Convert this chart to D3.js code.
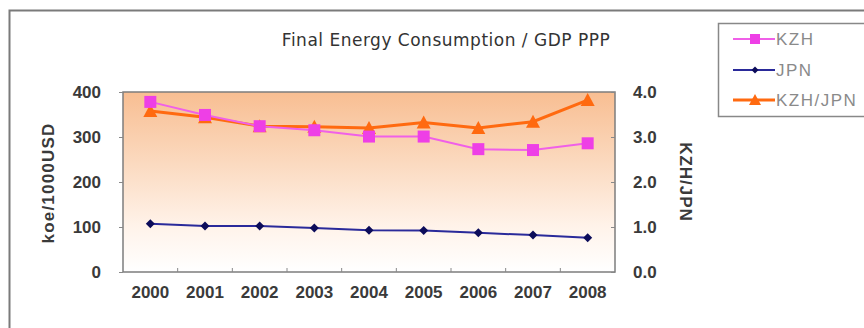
<!DOCTYPE html>
<html>
<head>
<meta charset="utf-8">
<script src="https://cdn.jsdelivr.net/npm/d3@7/dist/d3.min.js"></script>
<style>
  html, body { margin: 0; padding: 0; background: #fff; }
  svg { display: block; font-family: "Liberation Sans", Arial, sans-serif; }
</style>
</head>
<body>
<svg id="chart" width="864" height="328"></svg>
<script>
// Final energy consumption per GDP (PPP), Kazakhstan vs Japan
const years = ["2000", "2001", "2002", "2003", "2004", "2005", "2006", "2007", "2008"];
const kzh = [378, 349, 324, 315, 301, 301, 273, 271, 286];       // koe / 1000 USD
const jpn = [107, 102, 102, 98, 93, 92, 87, 82, 76];              // koe / 1000 USD
const ratio = [3.58, 3.44, 3.24, 3.23, 3.20, 3.32, 3.20, 3.34, 3.82]; // KZH / JPN
const leftTicks = [0, 100, 200, 300, 400];
const rightTicks = [0, 1, 2, 3, 4];

const svg = d3.select("#chart");
const plot = { left: 123, right: 615, top: 92, bottom: 272 };

const x = d3.scaleBand().domain(years).range([plot.left, plot.right]);
const yL = d3.scaleLinear().domain([0, 400]).range([plot.bottom, plot.top]);
const yR = d3.scaleLinear().domain([0, 4]).range([plot.bottom, plot.top]);
const cx = d => x(d) + x.bandwidth() / 2;

// outer chart frame (only left and top edges fall inside the view)
svg.append("path").attr("d", "M9.5,328 V10.5 H864")
  .attr("fill", "none").attr("stroke", "#7a7a7a").attr("stroke-width", 2);

// plot area gradient
const defs = svg.append("defs");
const grad = defs.append("linearGradient").attr("id", "bg").attr("x1", 0).attr("y1", 0).attr("x2", 0).attr("y2", 1);
grad.append("stop").attr("offset", "0%").attr("stop-color", "#f8be92");
grad.append("stop").attr("offset", "40%").attr("stop-color", "#fbdac0");
grad.append("stop").attr("offset", "75%").attr("stop-color", "#fff3ea");
grad.append("stop").attr("offset", "100%").attr("stop-color", "#ffffff");

svg.append("rect")
  .attr("x", plot.left).attr("y", plot.top)
  .attr("width", plot.right - plot.left).attr("height", plot.bottom - plot.top)
  .attr("fill", "url(#bg)")
  .attr("stroke", "#7d7d7d").attr("stroke-width", 1.5);

// title
svg.append("text").attr("x", 446).attr("y", 46).attr("text-anchor", "middle")
  .attr("font-family", "'DejaVu Sans', sans-serif")
  .attr("font-size", 17).attr("letter-spacing", 0.5).attr("fill", "#333")
  .text("Final Energy Consumption / GDP PPP");

const tickFont = g => g.selectAll("text")
  .attr("font-size", 17).attr("font-weight", "bold").attr("fill", "#3a3a3a")
  .attr("font-family", "'Liberation Sans', Arial, sans-serif");

// left axis
const axL = svg.append("g").attr("transform", `translate(${plot.left},0)`)
  .call(d3.axisLeft(yL).tickValues(leftTicks).tickSize(4).tickPadding(18).tickFormat(d3.format("d")));
axL.select(".domain").remove();
axL.selectAll("line").attr("stroke", "#888");
tickFont(axL);

// right axis
const axR = svg.append("g").attr("transform", `translate(${plot.right},0)`)
  .call(d3.axisRight(yR).tickValues(rightTicks).tickSize(-4).tickPadding(18).tickFormat(d3.format(".1f")));
axR.select(".domain").remove();
axR.selectAll("line").attr("stroke", "#888");
tickFont(axR);

// bottom axis: labels at band centres, ticks at band edges
const axB = svg.append("g").attr("transform", `translate(0,${plot.bottom})`)
  .call(d3.axisBottom(x).tickSize(0).tickPadding(14));
axB.select(".domain").remove();
tickFont(axB);
svg.append("g").selectAll("line").data(years.slice(1)).join("line")
  .attr("x1", d => x(d)).attr("x2", d => x(d))
  .attr("y1", plot.bottom).attr("y2", plot.bottom - 4)
  .attr("stroke", "#888");

// axis titles
svg.append("text").attr("transform", "translate(54,183) rotate(-90)")
  .attr("text-anchor", "middle").attr("font-size", 17).attr("font-weight", "bold").attr("fill", "#3a3a3a")
  .attr("letter-spacing", 1.2)
  .text("koe/1000USD");
svg.append("text").attr("transform", "translate(680,182) rotate(90)")
  .attr("text-anchor", "middle").attr("font-size", 17).attr("font-weight", "bold").attr("fill", "#3a3a3a")
  .attr("letter-spacing", 1)
  .text("KZH/JPN");

// series
const series = [
  { name: "KZH", values: kzh, y: yL, color: "#ee3fe6", line: "#f060e8", marker: "square", size: 12 },
  { name: "JPN", values: jpn, y: yL, color: "#0c0c5a", line: "#2a2a9a", marker: "diamond", size: 9 },
  { name: "KZH/JPN", values: ratio, y: yR, color: "#ff6a10", line: "#ff6a10", marker: "triangle", size: 12 }
];

function marker(g, type, size, color) {
  if (type === "square") {
    g.append("rect").attr("x", -size / 2).attr("y", -size / 2).attr("width", size).attr("height", size).attr("fill", color);
  } else if (type === "diamond") {
    const s = size / 2;
    g.append("path").attr("d", `M0,${-s} L${s},0 L0,${s} L${-s},0 Z`).attr("fill", color);
  } else {
    const s = size / 2;
    g.append("path").attr("d", `M0,${-s - 1} L${s + 1},${s} L${-s - 1},${s} Z`).attr("fill", color);
  }
}

// draw ratio first so KZH squares sit on top where they meet
[series[2], series[1], series[0]].forEach(s => {
  const line = d3.line().x((d, i) => cx(years[i])).y(d => s.y(d));
  svg.append("path").datum(s.values).attr("d", line)
    .attr("fill", "none").attr("stroke", s.line)
    .attr("stroke-width", s.name === "KZH/JPN" ? 3 : 2);
  s.values.forEach((v, i) => {
    const g = svg.append("g").attr("transform", `translate(${cx(years[i])},${s.y(v)})`);
    marker(g, s.marker, s.size, s.color);
  });
});

// legend
svg.append("rect").attr("x", 718.5).attr("y", 23.5).attr("width", 160).attr("height", 93)
  .attr("fill", "#fff").attr("stroke", "#888").attr("stroke-width", 1.5);
const legendY = [39, 70, 100];
series.forEach((s, i) => {
  const yy = legendY[i];
  svg.append("line").attr("x1", 733).attr("x2", 775).attr("y1", yy).attr("y2", yy)
    .attr("stroke", s.line).attr("stroke-width", s.name === "KZH/JPN" ? 3 : 2);
  const g = svg.append("g").attr("transform", `translate(755,${yy})`);
  marker(g, s.marker, s.size - 2, s.color);
  svg.append("text").attr("x", 776).attr("y", yy + 6).attr("font-size", 17).attr("fill", "#8a8a8a")
    .attr("letter-spacing", 1.5)
    .text(s.name);
});
</script>
</body>
</html>
